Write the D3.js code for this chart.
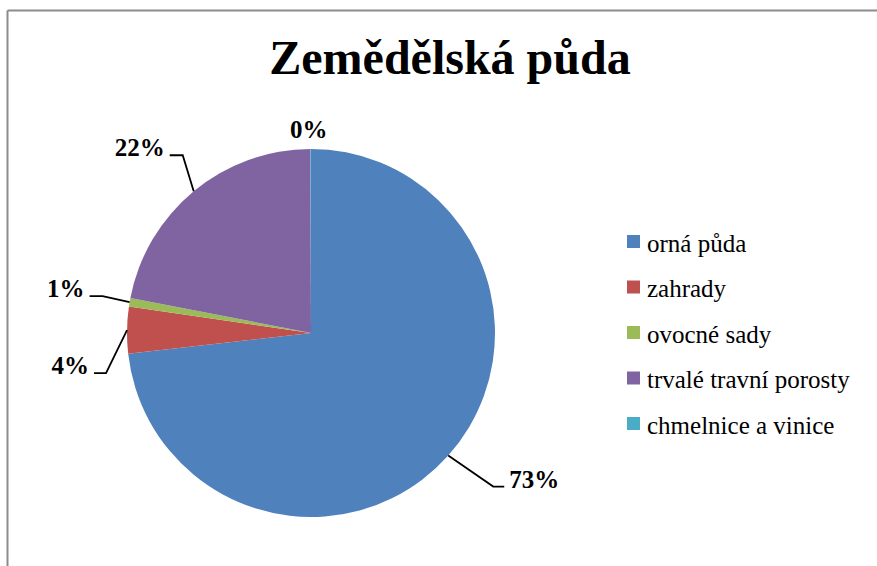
<!DOCTYPE html>
<html>
<head>
<meta charset="utf-8">
<script src="https://cdn.jsdelivr.net/npm/d3@7"></script>
</head>
<body style="margin:0">
<svg id="s" width="877" height="566"></svg>
<script>
// --- data ---
const chartTitle = "Zemědělská půda";
const categories = ["orná půda", "zahrady", "ovocné sady", "trvalé travní porosty", "chmelnice a vinice"];
const shares = [73.2, 4.1, 0.75, 21.9, 0.05];
const colors = ["#4F81BD", "#C0504D", "#9BBB59", "#8064A2", "#4BACC6"];

// label placement: elbow offset from the slice edge, then a short horizontal tail
const labelElbow = [[45, 31], [-21, 43], [-27, -6], [-11, -36], [-2, -11]];
const labelTail = [11, -12, -13, -13, 0];

const FONT = '"Times New Roman", "Liberation Serif", serif';
const svg = d3.select("#s");
const W = 877, H = 566;

function txt(sel, size, weight) {
    return sel.style("font-family", FONT)
        .attr("font-size", size)
        .attr("font-weight", weight);
}

// frame (only top and left edges visible in the reference)
svg.append("line").attr("x1", 7.5).attr("y1", 10.5).attr("x2", W).attr("y2", 10.5)
    .attr("stroke", "#8c8c8c").attr("stroke-width", 2);
svg.append("line").attr("x1", 7.5).attr("y1", 10.5).attr("x2", 7.5).attr("y2", H)
    .attr("stroke", "#8c8c8c").attr("stroke-width", 2);

// title
txt(svg.append("text"), 48, "bold")
    .attr("x", 450).attr("y", 74)
    .attr("text-anchor", "middle")
    .text(chartTitle);

// pie
const cx = 311, cy = 333, R = 184;
const total = d3.sum(shares);
const pie = d3.pie().sort(null).value(d => d);
const arcs = pie(shares);
const arc = d3.arc().innerRadius(0).outerRadius(R);

const g = svg.append("g").attr("transform", `translate(${cx},${cy})`);
g.selectAll("path.slice")
    .data(arcs)
    .enter().append("path")
    .attr("class", "slice")
    .attr("d", arc)
    .attr("fill", (d, i) => colors[i]);

// labels with leader lines
arcs.forEach((d, i) => {
    const mid = (d.startAngle + d.endAngle) / 2;
    const ex = R * Math.sin(mid), ey = -R * Math.cos(mid);
    const bx = ex + labelElbow[i][0], by = ey + labelElbow[i][1];
    const tail = labelTail[i];
    const label = txt(g.append("text"), 25, "bold")
        .text(Math.round(d.value / total * 100) + "%");
    if (tail === 0) {
        label.attr("x", bx).attr("y", by).attr("text-anchor", "middle");
        return;
    }
    const tx = bx + tail;
    g.append("polyline")
        .attr("points", [[ex, ey], [bx, by], [tx, by]].map(p => p.join(",")).join(" "))
        .attr("fill", "none").attr("stroke", "#000").attr("stroke-width", 1.8);
    label.attr("x", tx + (tail > 0 ? 5 : -5)).attr("y", by + 1)
        .attr("text-anchor", tail > 0 ? "start" : "end");
});

// legend
const legend = svg.append("g").attr("transform", "translate(627,235)");
const item = legend.selectAll("g")
    .data(categories)
    .enter().append("g")
    .attr("transform", (d, i) => `translate(0,${i * 45.5})`);
item.append("rect")
    .attr("width", 13).attr("height", 13)
    .attr("fill", (d, i) => colors[i]);
txt(item.append("text"), 25, "normal")
    .attr("x", 20).attr("y", 16.5)
    .text(d => d);
</script>
</body>
</html>
